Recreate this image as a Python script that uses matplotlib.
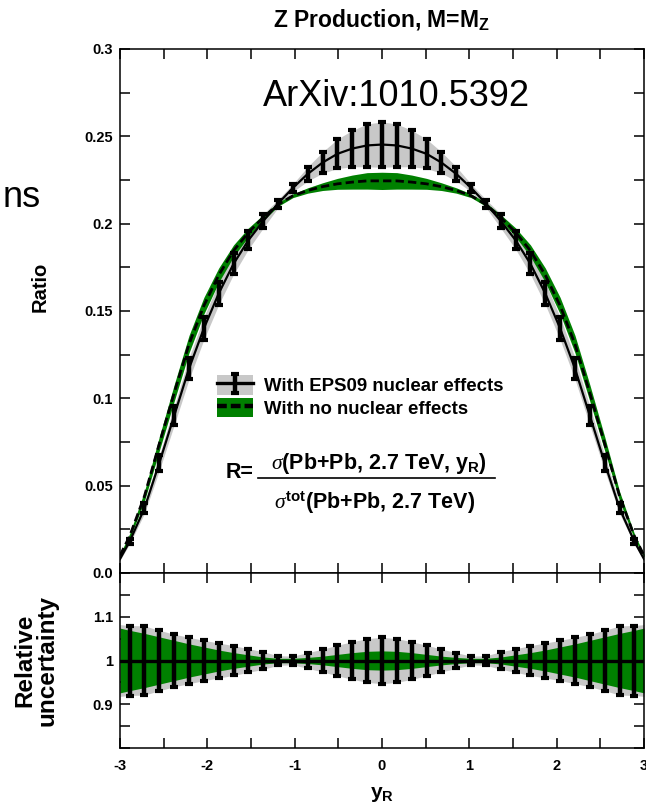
import matplotlib
matplotlib.use("Agg")
import matplotlib.pyplot as plt
from matplotlib.patches import Patch
from matplotlib.lines import Line2D
from matplotlib.ticker import MultipleLocator, FixedLocator, FixedFormatter

plt.rcParams["font.family"] = ["Liberation Sans", "DejaVu Sans"]
plt.rcParams["mathtext.fontset"] = "custom"
plt.rcParams["mathtext.rm"] = "Liberation Sans:bold"
plt.rcParams["mathtext.bf"] = "Liberation Sans:bold"
plt.rcParams["mathtext.it"] = "Liberation Serif:italic"

# rapidity grid (band edges at +-3, points with error bars in between)
y_grid = [-3.0, -2.89, -2.72, -2.55, -2.38, -2.21, -2.04, -1.87, -1.70, -1.53,
          -1.36, -1.19, -1.02, -0.85, -0.68, -0.51, -0.34, -0.17, 0.0,
          0.17, 0.34, 0.51, 0.68, 0.85, 1.02, 1.19, 1.36, 1.53, 1.70,
          1.87, 2.04, 2.21, 2.38, 2.55, 2.72, 2.89, 3.0]

# ratio with EPS09 nuclear effects
ratio_eps09 = [0.008, 0.018, 0.037, 0.063, 0.090, 0.117, 0.140, 0.160, 0.177, 0.1905,
               0.2015, 0.2115, 0.2205, 0.2285, 0.2350, 0.2400, 0.2430, 0.2448, 0.2453,
               0.2448, 0.2430, 0.2400, 0.2350, 0.2285, 0.2205, 0.2115, 0.2015, 0.1905,
               0.177, 0.160, 0.140, 0.117, 0.090, 0.063, 0.037, 0.018, 0.008]

# ratio with no nuclear effects
ratio_nonuc = [0.010, 0.021, 0.044, 0.074, 0.103, 0.131, 0.153, 0.1705, 0.1845, 0.195,
               0.2035, 0.211, 0.216, 0.219, 0.2212, 0.2228, 0.2238, 0.2245, 0.2245,
               0.2245, 0.2238, 0.2228, 0.2212, 0.219, 0.216, 0.211, 0.2035, 0.195,
               0.1845, 0.1705, 0.153, 0.131, 0.103, 0.074, 0.044, 0.021, 0.010]

# relative half-widths of the uncertainty bands
rel_eps09 = [0.082, 0.080, 0.079, 0.069, 0.060, 0.053, 0.046, 0.040, 0.034, 0.027,
             0.020, 0.011, 0.010, 0.018, 0.026, 0.035, 0.043, 0.050, 0.053,
             0.050, 0.043, 0.035, 0.026, 0.018, 0.010, 0.011, 0.020, 0.027,
             0.034, 0.040, 0.046, 0.053, 0.060, 0.069, 0.079, 0.080, 0.082]

rel_nonuc = [0.074, 0.069, 0.062, 0.054, 0.046, 0.038, 0.031, 0.024, 0.018, 0.013,
             0.008, 0.005, 0.005, 0.007, 0.010, 0.014, 0.018, 0.021, 0.022,
             0.021, 0.018, 0.014, 0.010, 0.007, 0.005, 0.005, 0.008, 0.013,
             0.018, 0.024, 0.031, 0.038, 0.046, 0.054, 0.062, 0.069, 0.074]

main_ticks = [0.0, 0.05, 0.1, 0.15, 0.2, 0.25, 0.3]
main_ticklabels = ["0.0", "0.05", "0.1", "0.15", "0.2", "0.25", "0.3"]
low_ticks = [0.9, 1.0, 1.1]
low_ticklabels = ["0.9", "1", "1.1"]
x_ticks = [-3, -2, -1, 0, 1, 2, 3]
x_ticklabels = ["-3", "-2", "-1", "0", "1", "2", "3"]

GRAY = "#c8c8c8"
GREEN = "#008000"
W, H = 646, 807


def fx(px):
    return px / W


def fy(py):
    return 1 - py / H


fig = plt.figure(figsize=(W / 100, H / 100), dpi=100)
ax = fig.add_axes([fx(120), fy(573), fx(644) - fx(120), fy(49) - fy(573)])
ax2 = fig.add_axes([fx(120), fy(748), fx(644) - fx(120), fy(573) - fy(748)])

pts = slice(1, -1)
err_eps = [v * r for v, r in zip(ratio_eps09, rel_eps09)]
bar_style = dict(fmt="none", ecolor="black", elinewidth=3.2, capsize=3.0, capthick=3.0)

# ---- main panel
ax.fill_between(y_grid, [v * (1 - r) for v, r in zip(ratio_eps09, rel_eps09)],
                [v * (1 + r) for v, r in zip(ratio_eps09, rel_eps09)],
                color=GRAY, lw=0, zorder=1)
ax.fill_between(y_grid, [v * (1 - r) for v, r in zip(ratio_nonuc, rel_nonuc)],
                [v * (1 + r) for v, r in zip(ratio_nonuc, rel_nonuc)],
                color=GREEN, lw=0, zorder=2)
ax.plot(y_grid, ratio_nonuc, color="black", lw=2.0, dashes=(3, 1.5), zorder=3)
ax.plot(y_grid, ratio_eps09, color="black", lw=1.6, zorder=4)
eb = ax.errorbar(y_grid[pts], ratio_eps09[pts], yerr=err_eps[pts], zorder=5, **bar_style)

ax.set_xlim(-3, 3)
ax.set_ylim(0, 0.3)
ax.yaxis.set_major_locator(FixedLocator(main_ticks))
ax.yaxis.set_major_formatter(FixedFormatter(main_ticklabels))
ax.yaxis.set_minor_locator(MultipleLocator(0.025))
ax.xaxis.set_major_locator(MultipleLocator(1))
ax.xaxis.set_minor_locator(MultipleLocator(0.5))
ax.tick_params(labelbottom=False)

# ---- ratio panel
ax2.fill_between(y_grid, [1 - r for r in rel_eps09], [1 + r for r in rel_eps09],
                 color=GRAY, lw=0, zorder=1)
ax2.fill_between(y_grid, [1 - r for r in rel_nonuc], [1 + r for r in rel_nonuc],
                 color=GREEN, lw=0, zorder=2)
ax2.plot(y_grid, [1.0] * len(y_grid), color="black", lw=2.4, zorder=3)
ax2.errorbar(y_grid[pts], [1.0] * len(y_grid[pts]), yerr=rel_eps09[pts], zorder=5,
             **bar_style)
ax2.set_xlim(-3, 3)
ax2.set_ylim(0.8, 1.2)
ax2.yaxis.set_major_locator(FixedLocator(low_ticks))
ax2.yaxis.set_major_formatter(FixedFormatter(low_ticklabels))
ax2.yaxis.set_minor_locator(MultipleLocator(0.05))
ax2.xaxis.set_major_locator(FixedLocator(x_ticks))
ax2.xaxis.set_major_formatter(FixedFormatter(x_ticklabels))
ax2.xaxis.set_minor_locator(MultipleLocator(0.5))

for a in (ax, ax2):
    a.tick_params(which="both", direction="in", top=True, right=True,
                  length=7, width=1.1, labelsize=10.5, pad=5)
    for lab in a.get_xticklabels() + a.get_yticklabels():
        lab.set_fontweight("bold")
    for s in a.spines.values():
        s.set_linewidth(1.1)
ax2.tick_params(axis="x", pad=8)

# ---- legend
leg_h1 = (Patch(facecolor=GRAY, edgecolor="none"),
          Line2D([], [], color="black", lw=2.4), eb)
leg_h2 = (Patch(facecolor=GREEN, edgecolor="none"),
          Line2D([], [], color="black", lw=3.2, dashes=(2.2, 0.9)))
ax.legend([leg_h1, leg_h2], ["With EPS09 nuclear effects", "With no nuclear effects"],
          loc="upper left", bbox_to_anchor=(fx(208), fy(366)),
          bbox_transform=fig.transFigure, frameon=False,
          prop={"weight": "bold", "size": 13.4}, handlelength=1.9,
          handleheight=1.25, handletextpad=0.6, labelspacing=0.12, borderpad=0)

# ---- formula
fig.text(fx(240), fy(472), "R=", fontsize=15.5, fontweight="bold", ha="center", va="center")
fig.text(fx(379), fy(469), r"$\sigma$(Pb+Pb, 2.7 TeV, y$_\mathrm{R}$)", fontsize=15.5,
         fontweight="bold", ha="center", va="baseline")
fig.add_artist(Line2D([fx(258), fx(495)], [fy(478), fy(478)], color="black", lw=1.2))
fig.text(fx(375), fy(509), r"$\sigma^\mathrm{tot}$(Pb+Pb, 2.7 TeV)", fontsize=15.5,
         fontweight="bold", ha="center", va="baseline")

# ---- titles and labels
fig.text(fx(381), fy(26), r"Z Production, M=M$_\mathrm{Z}$", fontsize=16.5,
         fontweight="bold", ha="center", va="baseline")
fig.text(fx(396), fy(106), "ArXiv:1010.5392", fontsize=26, ha="center", va="baseline")
fig.text(fx(41), fy(207), "ns", fontsize=26, ha="right", va="baseline")
fig.text(fx(40), fy(287), "Ratio", fontsize=14.5, fontweight="bold", rotation=90,
         ha="center", va="center")
fig.text(fx(36), fy(660), "Relative\nuncertainty", fontsize=17.5, fontweight="bold",
         rotation=90, ha="center", va="center", multialignment="center", linespacing=0.95)
fig.text(fx(382), fy(795), r"y$_\mathrm{R}$", fontsize=15, fontweight="bold",
         ha="center", va="center")

fig.savefig("out.png", dpi=100)
